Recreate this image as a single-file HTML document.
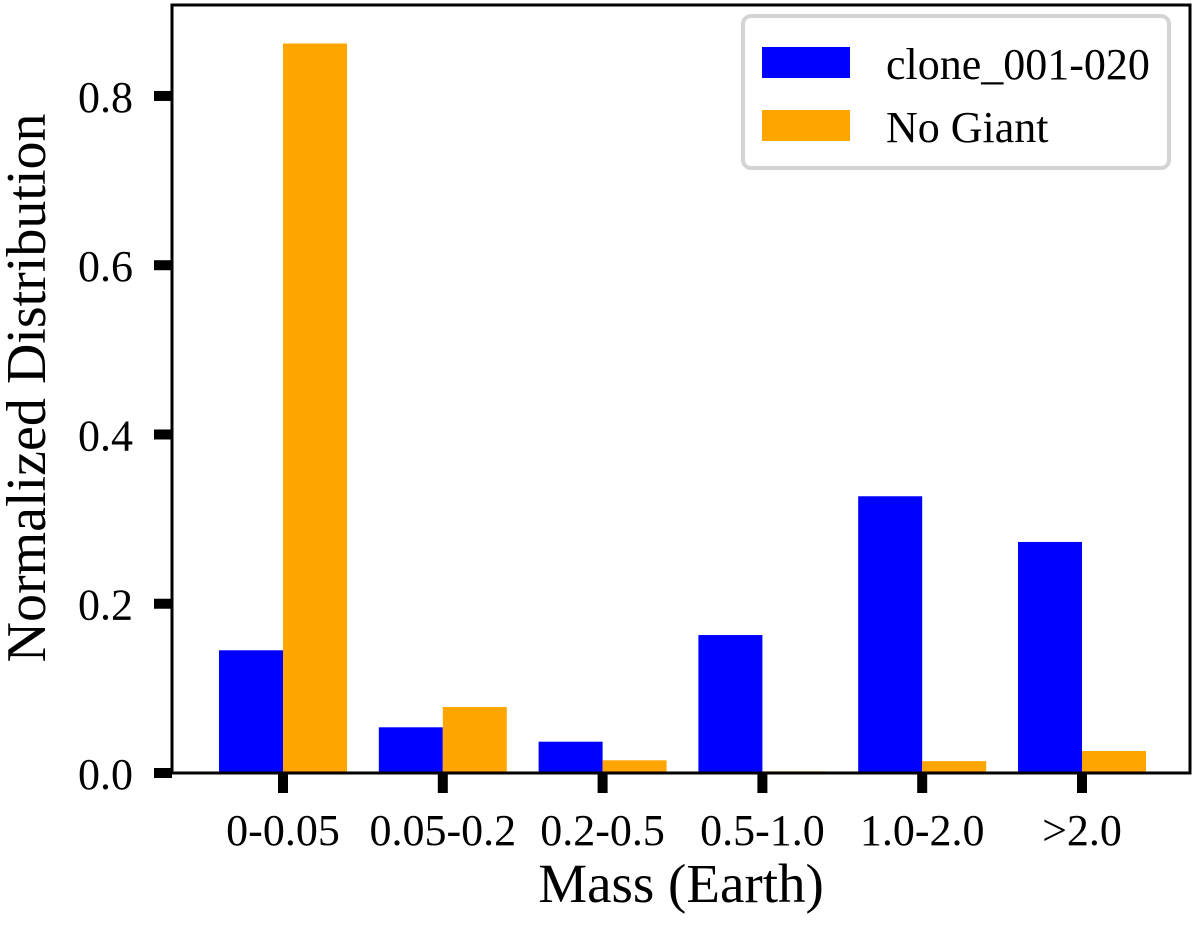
<!DOCTYPE html>
<html><head><meta charset="utf-8"><style>
body{margin:0;background:#fff}
svg{display:block;font-family:"Liberation Serif",serif}
</style></head><body>
<svg id="chart" width="1200" height="929">
<g id="bars"></g>
<g id="axes"></g>
<g>
<rect x="743" y="16" width="426" height="152" rx="8" fill="#fff" stroke="#d4d4d4" stroke-width="4"/>
<rect x="762" y="47" width="88" height="31" fill="#0000ff"/>
<text x="886" y="79" font-size="44">clone_001-020</text>
<rect x="762" y="110" width="88" height="31" fill="#ffa500"/>
<text x="886" y="142" font-size="44">No Giant</text>
</g>
<text x="681" y="902" font-size="55" text-anchor="middle">Mass (Earth)</text>
<text transform="translate(45,388) rotate(-90)" font-size="56" text-anchor="middle">Normalized Distribution</text>
</svg>
<script>
const categories=["0-0.05","0.05-0.2","0.2-0.5","0.5-1.0","1.0-2.0",">2.0"];
const cloneValues=[0.145,0.054,0.037,0.163,0.327,0.273];
const noGiantValues=[0.862,0.078,0.015,0.002,0.014,0.026];
const yTicks=[0,0.2,0.4,0.6,0.8];
const yTickLabels=["0.0","0.2","0.4","0.6","0.8"];
const NS="http://www.w3.org/2000/svg";
const L=172,R=1190,T=5,B=773;
const y=v=>B-v*846.3;
const x=i=>283+i*159.8;
const bw=64;
function mk(tag,attrs,parent){const e=document.createElementNS(NS,tag);for(const k in attrs)e.setAttribute(k,attrs[k]);parent.appendChild(e);return e;}
const bars=document.getElementById('bars'),axes=document.getElementById('axes');
categories.forEach((c,i)=>{
 let r=mk('rect',{x:x(i)-bw,y:y(cloneValues[i]),width:bw,height:B-y(cloneValues[i]),fill:'#0000ff'},bars);
 
 
 r=mk('rect',{x:x(i),y:y(noGiantValues[i]),width:bw,height:B-y(noGiantValues[i]),fill:'#ffa500'},bars);
 
 
 let t=mk('rect',{x:x(i)-5,y:B,width:10,height:20,fill:'#000'},axes);
 
 
 let l=mk('text',{x:x(i),y:845,'font-size':44,'text-anchor':'middle'},axes);
 l.textContent=c;
 
 
});
yTicks.forEach((v,i)=>{
 let t=mk('rect',{x:154,y:y(v)-5,width:18,height:10,fill:'#000'},axes);
 
 
 let l=mk('text',{x:133,y:y(v)+16,'font-size':44,'text-anchor':'end'},axes);
 l.textContent=yTickLabels[i];
 
 
});
const f=mk('rect',{x:L,y:T,width:R-L,height:B-T,fill:'none',stroke:'#000','stroke-width':3},axes);


</script>
</body></html>
